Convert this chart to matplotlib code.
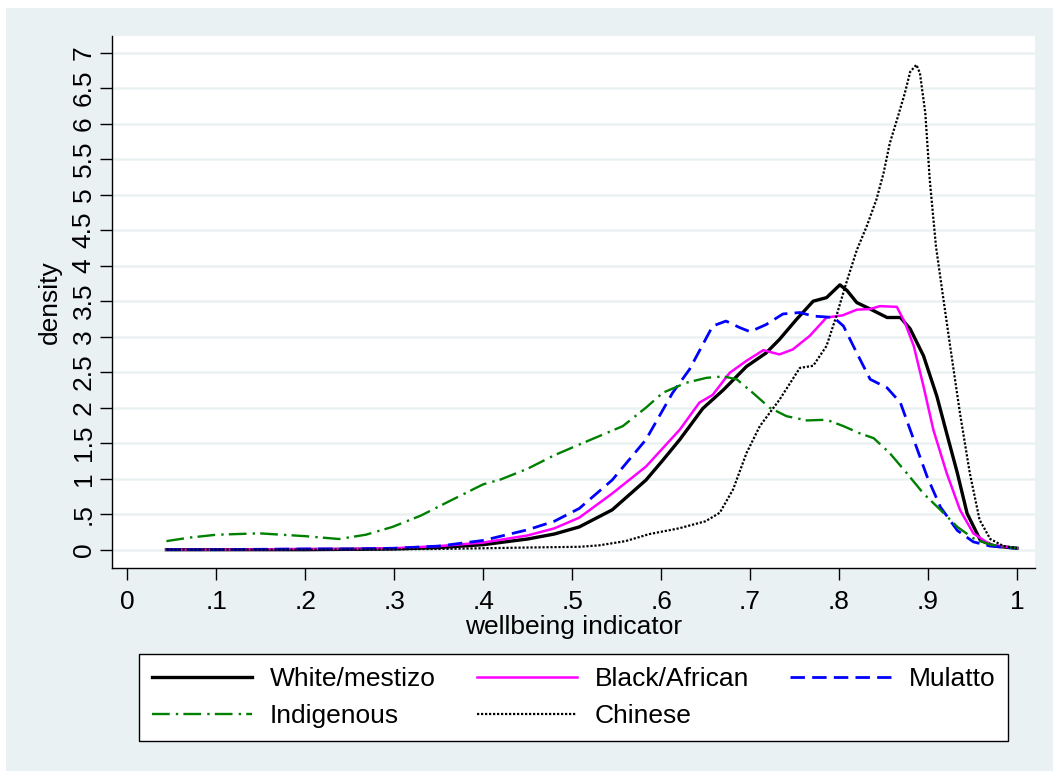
import matplotlib.pyplot as plt
from matplotlib.patches import Rectangle
import numpy as np

plt.rcParams['font.family'] = ['Liberation Sans', 'DejaVu Sans']

# series (x = wellbeing indicator, y = density)
white_x = [0.044, 0.10, 0.20, 0.25, 0.30, 0.35, 0.40, 0.45, 0.48, 0.508, 0.545, 0.583, 0.602, 0.621,
           0.647, 0.670, 0.696, 0.718, 0.733, 0.752, 0.771, 0.786, 0.801, 0.809, 0.820, 0.835,
           0.854, 0.869, 0.880, 0.895, 0.910, 0.921, 0.933, 0.944, 0.959, 0.975, 1.0]
white_y = [0.0, 0.0, 0.0, 0.005, 0.01, 0.03, 0.07, 0.15, 0.22, 0.32, 0.56, 0.98, 1.26, 1.55,
           1.99, 2.25, 2.58, 2.77, 2.96, 3.24, 3.50, 3.55, 3.73, 3.65, 3.48, 3.39,
           3.27, 3.27, 3.11, 2.73, 2.16, 1.64, 1.08, 0.51, 0.13, 0.05, 0.02]

black_x = [0.044, 0.10, 0.20, 0.25, 0.30, 0.35, 0.40, 0.45, 0.48, 0.508, 0.545, 0.583, 0.621, 0.643,
           0.658, 0.677, 0.696, 0.715, 0.733, 0.748, 0.767, 0.786, 0.804, 0.820, 0.835, 0.846,
           0.865, 0.874, 0.884, 0.895, 0.906, 0.921, 0.936, 0.951, 0.97, 1.0]
black_y = [0.0, 0.0, 0.01, 0.01, 0.02, 0.05, 0.10, 0.20, 0.30, 0.45, 0.79, 1.17, 1.69, 2.07,
           2.18, 2.49, 2.66, 2.81, 2.75, 2.82, 3.01, 3.27, 3.30, 3.38, 3.39, 3.43,
           3.42, 3.20, 2.87, 2.30, 1.69, 1.08, 0.56, 0.23, 0.07, 0.02]

mulatto_x = [0.044, 0.10, 0.20, 0.25, 0.30, 0.35, 0.40, 0.45, 0.48, 0.508, 0.545, 0.583, 0.613, 0.632,
             0.658, 0.673, 0.688, 0.700, 0.718, 0.737, 0.756, 0.771, 0.794, 0.805, 0.820, 0.835,
             0.854, 0.869, 0.884, 0.899, 0.914, 0.933, 0.951, 0.97, 1.0]
mulatto_y = [0.0, 0.0, 0.01, 0.01, 0.02, 0.05, 0.13, 0.28, 0.40, 0.58, 0.98, 1.55, 2.21, 2.54,
             3.15, 3.22, 3.13, 3.07, 3.17, 3.32, 3.34, 3.29, 3.27, 3.15, 2.77, 2.40,
             2.28, 2.07, 1.55, 1.03, 0.60, 0.27, 0.11, 0.05, 0.02]

indig_x = [0.044, 0.07, 0.10, 0.148, 0.20, 0.238, 0.268, 0.298, 0.33, 0.36, 0.40, 0.42, 0.45,
           0.48, 0.508, 0.557, 0.583, 0.602, 0.628, 0.651, 0.670, 0.685, 0.703, 0.722, 0.741,
           0.764, 0.786, 0.805, 0.823, 0.839, 0.857, 0.876, 0.895, 0.914, 0.933, 0.951, 0.97, 1.0]
indig_y = [0.12, 0.17, 0.21, 0.23, 0.19, 0.15, 0.21, 0.32, 0.48, 0.67, 0.92, 0.99, 1.14,
           1.33, 1.48, 1.74, 2.00, 2.21, 2.35, 2.42, 2.44, 2.40, 2.21, 2.00, 1.88,
           1.82, 1.83, 1.74, 1.64, 1.57, 1.36, 1.08, 0.79, 0.56, 0.32, 0.16, 0.07, 0.02]

chinese_x = [0.044, 0.10, 0.20, 0.30, 0.35, 0.40, 0.45, 0.508, 0.53, 0.56, 0.587, 0.62, 0.65, 0.666,
             0.681, 0.696, 0.711, 0.733, 0.756, 0.771, 0.786, 0.797, 0.808, 0.820, 0.831, 0.842,
             0.850, 0.857, 0.865, 0.874, 0.880, 0.887, 0.891, 0.897, 0.902, 0.909, 0.917, 0.925,
             0.936, 0.947, 0.958, 0.97, 0.985, 1.0]
chinese_y = [0.0, 0.0, 0.0, 0.005, 0.01, 0.02, 0.03, 0.04, 0.06, 0.12, 0.22, 0.30, 0.40, 0.52,
             0.85, 1.36, 1.74, 2.11, 2.56, 2.59, 2.87, 3.29, 3.75, 4.22, 4.55, 4.93,
             5.30, 5.72, 6.05, 6.43, 6.73, 6.83, 6.71, 6.15, 5.21, 4.27, 3.56, 2.86,
             1.92, 1.08, 0.42, 0.15, 0.05, 0.02]

x_ticks = [0, 0.1, 0.2, 0.3, 0.4, 0.5, 0.6, 0.7, 0.8, 0.9, 1.0]
x_tick_labels = ['0', '.1', '.2', '.3', '.4', '.5', '.6', '.7', '.8', '.9', '1']
y_ticks = [0, 0.5, 1, 1.5, 2, 2.5, 3, 3.5, 4, 4.5, 5, 5.5, 6, 6.5, 7]
y_tick_labels = ['0', '.5', '1', '1.5', '2', '2.5', '3', '3.5', '4', '4.5', '5', '5.5', '6', '6.5', '7']

BG = '#EAF1F3'
FS = 19

fig = plt.figure(figsize=(10.53, 7.71), dpi=100)
fig.patch.set_facecolor('white')
fig.patches.append(Rectangle((6 / 1053, 0), 1 - 6 / 1053, 1 - 8 / 771, transform=fig.transFigure,
                             facecolor=BG, edgecolor='none', zorder=-10))

ax = fig.add_axes([0.1061, 0.2637, 0.8768, 0.6896])
ax.set_facecolor('white')

h_white, = ax.plot(white_x, white_y, color='black', lw=2.4, label='White/mestizo', zorder=3)
h_black, = ax.plot(black_x, black_y, color='#FF00FF', lw=1.8, label='Black/African', zorder=3)
h_mul, = ax.plot(mulatto_x, mulatto_y, color='#0000FF', lw=2.0, dashes=(5.2, 2.6),
                 label='Mulatto', zorder=3)
h_ind, = ax.plot(indig_x, indig_y, color='#008000', lw=1.7, dashes=(7.5, 2.6, 1, 2.2),
                 label='Indigenous', zorder=3)
h_chi, = ax.plot(chinese_x, chinese_y, color='black', lw=1.6, dashes=(1, 0.8),
                 label='Chinese', zorder=4)

ax.set_xlim(-0.0175, 1.0203)
ax.set_ylim(-0.254, 7.235)

ax.set_xticks(x_ticks)
ax.set_xticklabels(x_tick_labels)
ax.set_yticks(y_ticks)
ax.set_yticklabels(y_tick_labels, rotation=90, va='center')
ax.tick_params(axis='both', labelsize=FS, length=8.5, width=1, color='black', direction='out')
ax.tick_params(axis='x', pad=7.5)
ax.tick_params(axis='y', pad=3)
ax.yaxis.grid(True, color=BG, lw=1.8, zorder=0)
ax.set_axisbelow(True)

for s in ['top', 'right']:
    ax.spines[s].set_visible(False)
for s in ['left', 'bottom']:
    ax.spines[s].set_linewidth(1.0)
    ax.spines[s].set_color('black')

ax.set_xlabel('wellbeing indicator', fontsize=FS)
ax.set_ylabel('density', fontsize=FS)
ax.xaxis.set_label_coords(0.5, -0.089)
ax.yaxis.set_label_coords(-0.054, 0.5)

leg = fig.legend(handles=[h_white, h_ind, h_black, h_chi, h_mul], ncol=3, loc='center',
                 bbox_to_anchor=(0.5446, 0.0953), fontsize=FS, frameon=True, fancybox=False,
                 edgecolor='black', framealpha=1, handlelength=3.8, handletextpad=0.68,
                 columnspacing=1.55, labelspacing=0.48, borderpad=0.5)
leg.get_frame().set_linewidth(1.0)

fig.savefig('out.png', dpi=100)
